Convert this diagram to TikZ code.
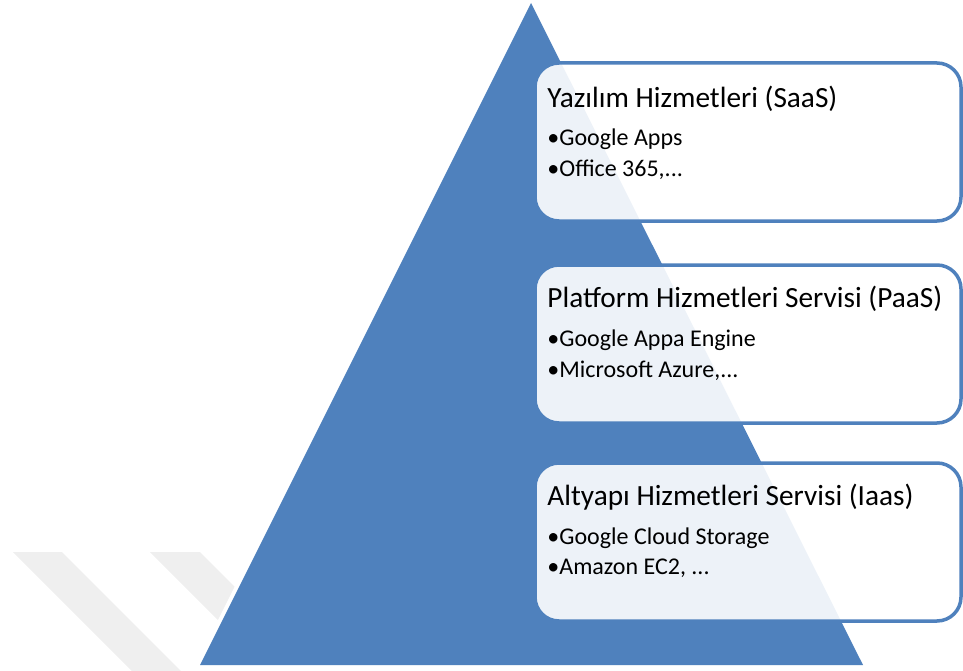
\documentclass[tikz,border=0pt]{standalone}
\usepackage{fontspec}
\setmainfont{Carlito}
\usetikzlibrary{calc}
\definecolor{pyrblue}{RGB}{79,129,189}
\definecolor{markgray}{RGB}{239,239,239}
\tikzset{
  layerbox/.style={draw=pyrblue, line width=3.5pt, rounded corners=24pt,
    fill=white, fill opacity=0.9, minimum width=426pt, minimum height=158pt,
    inner sep=0pt},
  layertitle/.style={anchor=base west, inner sep=0pt,
    font=\fontsize{29.3}{32}\selectfont},
  layeritem/.style={anchor=base west, inner sep=0pt,
    font=\fontsize{24}{26}\selectfont},
}
\begin{document}
\begin{tikzpicture}[x=1pt,y=-1pt]
    \useasboundingbox (0,0) rectangle (963,671);

    % faint marks at the bottom left
    \fill[markgray] (13,552) -- (62,552) -- (181,671) -- (132,671) -- cycle;
    \fill[markgray] (150,552) -- (200,552) -- (308,660) -- (258,660) -- cycle;

    % pyramid
    \draw[white, line width=8pt] (531,3) -- (863,665) -- (200,665) -- cycle;
    \fill[pyrblue] (531,3) -- (863,665) -- (200,665) -- cycle;

    % layers
    \node[layerbox] (saas) at (748,142) {};
    \node[layerbox] (paas) at (748,344) {};
    \node[layerbox] (iaas) at (748,542) {};

    \node[layertitle] (saastitle) at ($(saas.north west)+(14,46)$) {Yazılım Hizmetleri (SaaS)};
    \node[layeritem] (saasa) at ($(saas.north west)+(14,84)$) {•Google Apps};
    \node[layeritem] (saasb) at ($(saas.north west)+(14,115)$) {•Office 365,...};

    \node[layertitle] (paastitle) at ($(paas.north west)+(14,44)$) {Platform Hizmetleri Servisi (PaaS)};
    \node[layeritem] (paasa) at ($(paas.north west)+(14,83)$) {•Google Appa Engine};
    \node[layeritem] (paasb) at ($(paas.north west)+(14,114)$) {•Microsoft Azure,...};

    \node[layertitle] (iaastitle) at ($(iaas.north west)+(14,44)$) {Altyapı Hizmetleri Servisi (Iaas)};
    \node[layeritem] (iaasa) at ($(iaas.north west)+(14,83)$) {•Google Cloud Storage};
    \node[layeritem] (iaasb) at ($(iaas.north west)+(14,113)$) {•Amazon EC2, ...};
\end{tikzpicture}
\end{document}
